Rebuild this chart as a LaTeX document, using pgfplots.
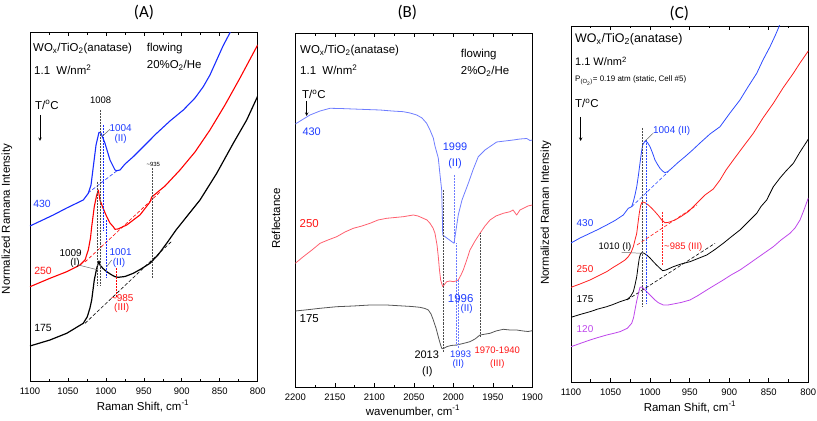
\documentclass[border=0pt]{standalone}
\usepackage{pgfplots}
\pgfplotsset{compat=1.18}
\usepackage{fontspec}
\setmainfont{Liberation Sans}
\newfontfamily\calibri{Carlito}
\newcommand{\fs}[1]{\fontsize{#1}{#1}\selectfont}
\definecolor{bA}{RGB}{25,45,255}
\definecolor{rA}{RGB}{255,0,0}
\definecolor{bB}{RGB}{110,125,255}
\definecolor{rB}{RGB}{255,95,110}
\definecolor{kB}{RGB}{85,85,85}
\definecolor{bC}{RGB}{45,75,255}
\definecolor{rC}{RGB}{255,30,30}
\definecolor{pC}{RGB}{190,70,235}
\definecolor{bT}{RGB}{30,60,255}
\definecolor{rT}{RGB}{255,20,20}
\pgfplotsset{
  panel/.style={
    scale only axis, anchor=south west, x dir=reverse, ymin=0, ytick=\empty,
    minor x tick num=1, tick align=inside, xtick pos=both,
    major tick length=4bp, minor tick length=2.5bp,
    every tick/.style={black, line width=0.6pt},
    axis line style={line width=0.9pt},
    tick label style={font=\fs{9.5}},
    xticklabel style={yshift=-3bp},
    /pgf/number format/assume math mode=true,
    /pgf/number format/1000 sep={},
    scaled x ticks=false,
  },
  cur/.style={line width=#1, no markers, line join=round},
  dot/.style={densely dotted, line width=0.5pt, no markers},
  dsh/.style={dash pattern=on 3.5pt off 2pt, line width=0.6pt, no markers},
  lead/.style={line width=0.5pt, color=black!60, no markers},
}
\begin{document}
\begin{tikzpicture}
\useasboundingbox (0,0) rectangle (817bp,421bp);
% ---------------- Panel A ----------------
\begin{axis}[panel, at={(30bp,39.3bp)}, width=227.7bp, height=349.4bp,
  xmin=800, xmax=1100, ymax=349.4, xtick={800,850,...,1100}]
% 430 blue
\addplot[cur=1.1pt, bA] coordinates {
(1100,155.7)(1069.3,166.7)(1051.6,173.7)(1029.8,181.7)(1023.2,188.4)(1019.6,196.7)
(1016.6,215)(1013.0,236.7)(1009.1,249.4)(1006.5,248.7)(1001.2,238.4)(994.6,221.7)
(988.0,211.7)(985.8,211)(981.4,211.7)(974.8,217.7)(963.9,225)(948.5,236.7)
(933.1,248.4)(915.6,260.7)(898.0,271.7)(882.6,283.7)(871.7,295)(862.9,306.7)
(854.0,321.7)(845.7,335.7)(836.9,348.4)(835.0,352)};
\addplot[dsh, bA] coordinates {(1023.6,188.7)(984.1,211.7)};
% 250 red
\addplot[cur=1.1pt, rA] coordinates {
(1100,95)(1073.7,103.4)(1051.6,110)(1034.1,116.7)(1027.5,121.7)(1023.2,131.7)
(1020.3,143.7)(1018.7,155)(1015.3,175)(1012.4,185.7)(1010.0,191.7)(1007.8,181.7)
(1003.8,173.7)(998.9,165)(994.6,158.7)(990.3,155)(988.0,152.4)(984.1,152.7)
(972.6,156.7)(955.1,166.7)(941.9,179.7)(939.6,184.7)(922.1,195.7)(902.4,211.7)
(882.6,229.7)(862.9,251.7)(843.1,276.7)(823.3,303.7)(801.3,335)(800,336.7)};
\addplot[dsh, rA] coordinates {(1027.5,119.7)(928.7,189.7)};
% 175 black
\addplot[cur=1.2pt, black] coordinates {
(1100,35.7)(1073.7,41.7)(1051.6,48.4)(1029.8,58.4)(1024.5,65)(1021.0,73.7)
(1018.7,81.7)(1017.0,91.7)(1015.3,101.7)(1012.1,113.4)(1009.1,120.7)(1007.8,116.7)
(1003.8,113.2)(998.9,110)(993.3,107.2)(988.0,105)(983.7,104.4)(974.8,105.2)
(963.9,108.4)(953.8,112.7)(941.9,118.4)(931.4,126.7)(919.9,138.4)(907.6,151.7)
(893.6,165)(876.0,181.7)(854.0,208.4)(832.2,238.4)(814.5,261.7)(801.3,283.4)(800,285.7)};
\addplot[dsh, black] coordinates {(1027.5,58.4)(912.9,140.7)};
% dotted marker lines
\addplot[dot, black!70] coordinates {(1008,271.7)(1008,96.7)};
\addplot[dot, black!70] coordinates {(1011,200)(1011,96.7)};
\addplot[dot, bA] coordinates {(1003.4,256.7)(1003.4,151.7)};
\addplot[dot, bA] coordinates {(1000,161.7)(1000,103.7)};
\addplot[dot, rA] coordinates {(985.8,113.7)(985.8,84.7)};
\addplot[dot, black!70] coordinates {(938.3,213.7)(938.3,103.7)};
% leaders
\addplot[lead] coordinates {(994.6,252.4)(1005.5,245)};
\addplot[lead] coordinates {(1036.4,116.7)(1010,111.7)};
\addplot[lead] coordinates {(992.4,121.7)(998.9,115)};
\end{axis}
% ---------------- Panel B ----------------
\begin{axis}[panel, at={(295.3bp,33.7bp)}, width=237bp, height=354bp,
  xmin=1900, xmax=2200, ymax=354, xtick={1900,1950,...,2200}]
\addplot[cur=0.8pt, bB] coordinates {
(2200,263.3)(2181.4,272.3)(2168.7,276.3)(2156.1,279)(2143.4,278.8)(2126.6,278.3)
(2110.5,277.8)(2092.8,277.3)(2077.6,276.3)(2063.3,275.6)(2054.8,274.3)(2046.3,272.3)
(2039.6,269.3)(2033.7,264)(2029.5,257.3)(2025.3,249.3)(2023.2,241.3)(2019.0,229.3)
(2016.8,212.3)(2014.7,197.3)(2013.9,172.3)(2013.4,152.3)(1999.1,144)(1993.7,172.3)
(1989.0,187.3)(1981.0,204)(1975.1,217.3)(1968.4,230.6)(1959.9,237.3)(1945.1,245.3)
(1934.6,246.3)(1924.1,247.3)(1915.6,248.3)(1907.1,248.8)(1902.9,246.8)(1900,247.3)};
\addplot[cur=0.8pt, rB] coordinates {
(2200,124)(2189.9,130.6)(2178.9,137.3)(2168.7,144)(2158.6,147.3)(2147.6,150.6)
(2137.1,155.3)(2126.6,159)(2115.6,161.3)(2105.4,164)(2095.3,167.3)(2084.3,169)
(2073.8,169.8)(2063.3,170.6)(2050.6,172.3)(2044.7,171.3)(2038.0,169)(2033.3,167.3)
(2029.5,164)(2025.7,159.3)(2023.2,154)(2020.6,142.3)(2019.0,130.6)(2017.5,117.3)
(2016.0,107.3)(2013.4,100.6)(2008.4,105.6)(2004.2,106.3)(2000.0,105.6)(1996.6,106.3)
(1993.7,107.3)(1990.3,112.3)(1987.4,117.3)(1983.0,127.3)(1978.9,137.3)(1972.5,146.3)
(1966.2,154)(1959.9,161.3)(1953.5,167.3)(1946.0,171.3)(1936.7,174)(1928.2,175.6)
(1924.4,177.3)(1919.8,172.3)(1915.6,177.3)(1911.4,179)(1905.5,181.3)(1900,182.3)};
\addplot[cur=0.8pt, kB] coordinates {
(2200,76.3)(2187.7,77.3)(2168.7,79)(2147.6,80.6)(2126.6,81.3)(2105.4,82.3)
(2084.3,82.3)(2063.3,81.3)(2052.3,80.8)(2042.2,80)(2035.8,78.8)(2031.6,77.3)
(2028.2,73.3)(2025.3,67.3)(2021.9,59.3)(2019.0,50.6)(2016.8,44.3)(2014.7,39)
(2013.0,38.5)(2008.4,40.6)(2002.9,41.8)(1995.7,42.3)(1987.7,43.8)(1978.9,45.6)
(1972.5,48.3)(1966.2,52.3)(1953.5,54)(1946.0,56.3)(1936.7,58)(1928.2,57.3)
(1919.8,57.3)(1911.4,56.3)(1905.5,55.8)(1900,56.6)};
\addplot[dot, black!70] coordinates {(2013,197.3)(2013,35.3)};
\addplot[dot, bB] coordinates {(1999.1,212.3)(1999.1,144)};
\addplot[dot, bB] coordinates {(1996,144)(1996,42.3)};
\addplot[dot, bB] coordinates {(1993.2,107.3)(1993.2,39.3)};
\addplot[dot, black!70] coordinates {(1966.2,154)(1966.2,50.6)};
\end{axis}
% ---------------- Panel C ----------------
\begin{axis}[panel, at={(571bp,39bp)}, width=237.3bp, height=356bp,
  xmin=800, xmax=1100, ymax=356, xtick={800,850,...,1100}]
\addplot[cur=0.8pt, bC] coordinates {
(1100,139)(1088.6,144)(1076.0,148.7)(1065.9,152.5)(1054.9,157)(1044.4,161.5)
(1033.9,167)(1027.6,173.7)(1023.3,175.3)(1021.2,180.3)(1019.1,187)(1016.9,195.3)
(1014.7,207)(1012.8,218.7)(1010.9,230)(1009.4,237)(1006.4,241)(1003.3,239.5)
(1000.1,235.3)(996.9,229)(993.8,222)(990.6,217.5)(987.5,213.7)(984.3,211)
(981.2,209.3)(977.4,210.5)(972.7,213.7)(964.7,219.5)(955.9,225.3)(947.0,231.5)
(936.9,239)(924.3,248)(911.6,255.3)(899.0,269)(886.4,282)(876.3,295)
(865.2,308.7)(857.3,322)(848.4,335.3)(842.1,346)(837.9,353.7)(835.8,358)};
\addplot[dsh, bC] coordinates {(1023.3,175.3)(977.0,210.3)};
\addplot[cur=0.8pt, rC] coordinates {
(1100,94.7)(1088.6,98)(1076.0,102)(1065.9,106)(1054.9,110.3)(1046.9,114.5)
(1038.1,118.7)(1031.7,122)(1027.6,125.3)(1024.1,129.5)(1021.2,135.3)(1019.1,142)
(1016.9,148.7)(1015.3,159)(1013.7,168.7)(1012.1,176)(1010.6,179.3)(1009.0,180)
(1005.8,179)(1002.3,177)(998.2,174)(993.8,170.3)(989.6,166.5)(985.3,162)
(981.2,159.3)(977.4,159.5)(968.5,162)(960.9,165.5)(951.7,170.3)(943.2,177)
(930.6,187)(920.1,193)(911.6,202)(904.0,212)(894.8,222)(882.6,235)
(869.5,248.7)(857.3,264)(844.2,278.7)(832.0,294)(818.9,308.7)(810.5,319)
(802.0,328.7)(800,331)};
\addplot[dsh, rC] coordinates {(1016.6,137)(940.7,177)};
\addplot[cur=0.8pt, black] coordinates {
(1100,64.7)(1088.6,67.5)(1076.0,70.3)(1065.9,73)(1054.9,75.3)(1046.9,77.5)
(1038.1,80.3)(1028.8,82.7)(1024.8,85.5)(1021.2,90.3)(1019.1,97)(1016.9,105.3)
(1015.3,115)(1013.7,123.7)(1012.1,128)(1010.6,129.3)(1008.3,129)(1004.3,127)
(1000.1,124)(995.9,120.3)(991.9,117)(987.5,113.7)(984.1,111.3)(979.9,112)
(970.7,115.3)(960.9,118)(949.6,120.3)(939.4,123.5)(928.4,127)(918.0,132.5)
(907.5,138.7)(897.7,145)(886.4,152)(876.3,160)(865.2,168.7)(859.8,175.5)
(852.6,182)(844.2,195.3)(835.8,204)(828.2,211)(818.9,218.7)(810.5,230)
(802.0,240.3)(800,243)};
\addplot[dsh, black] coordinates {(1029.2,82)(917.9,138.7)};
\addplot[cur=0.8pt, pC] coordinates {
(1100,35.3)(1088.6,38.5)(1076.0,42)(1065.9,44.5)(1054.9,47)(1046.9,48.5)
(1038.1,50.3)(1028.8,53.7)(1023.3,58.7)(1021.0,64)(1019.1,72)(1017.2,80)
(1015.7,85.3)(1014.0,91)(1012.8,94.7)(1010.2,95)(1006.4,92)(1002.7,89)
(998.0,85.3)(993.8,82)(989.6,79.3)(983.3,77)(977.4,77)(970.7,78)
(960.9,79.5)(949.6,82)(939.4,86.5)(928.4,92)(918.0,97)(907.5,102)
(897.7,107)(886.4,112)(876.3,117.5)(865.2,123.7)(854.7,129.5)(844.2,135.3)
(834.5,142)(823.2,148.7)(816.8,154)(810.5,162)(805.5,172)(800,184)};
\addplot[dot, black!70] coordinates {(1009.4,254)(1009.4,75.3)};
\addplot[dot, bC] coordinates {(1004.6,242)(1004.6,79)};
\addplot[dot, rC] coordinates {(985,170)(985,117)};
\addplot[lead] coordinates {(996.2,248.7)(1006.4,241)};
\addplot[lead] coordinates {(1035.9,129.7)(1010.6,128.7)};
\end{axis}
% ---------------- Texts A ----------------
\begin{scope}[every node/.style={inner sep=0pt}]
\node[font=\calibri\fs{17}] at (144bp,409bp) {(A)};
\node[font=\fs{11.5}, anchor=base west] at (33bp,369.3bp) {WO\textsubscript{x}/TiO\textsubscript{2}(anatase)};
\node[font=\fs{11.5}, anchor=base west] at (146.7bp,369.3bp) {flowing};
\node[font=\fs{11.5}, anchor=base west] at (34bp,346.3bp) {1.1~~W/nm\textsuperscript{2}};
\node[font=\fs{11.5}, anchor=base west] at (146.7bp,352.7bp) {20\%O\textsubscript{2}/He};
\node[font=\fs{11.5}, anchor=base west] at (35bp,311.7bp) {T/\textsuperscript{o}C};
\draw[-stealth, line width=0.6pt] (40bp,306bp) -- (40bp,280bp);
\node[font=\fs{9.5}] at (100.7bp,321bp) {1008};
\node[font=\fs{10}, text=bT] at (120.7bp,292.7bp) {1004};
\node[font=\fs{10}, text=bT] at (120.7bp,281.7bp) {(II)};
\node[font=\fs{6}] at (153.3bp,256.7bp) {\textasciitilde935};
\node[font=\fs{10.5}, text=bT] at (42bp,217.5bp) {430};
\node[font=\fs{10}] at (70.7bp,167.7bp) {1009};
\node[font=\fs{10}] at (75bp,158.3bp) {(I)};
\node[font=\fs{10}, text=bT] at (120.7bp,169.3bp) {1001};
\node[font=\fs{10}, text=bT] at (119bp,158.3bp) {(II)};
\node[font=\fs{10.5}, text=rT] at (43bp,150bp) {250};
\node[font=\fs{10}, text=rT] at (122.3bp,122.7bp) {\textasciitilde985};
\node[font=\fs{10}, text=rT] at (121.7bp,112.7bp) {(III)};
\node[font=\fs{10.5}] at (43bp,93.5bp) {175};
\node[font=\fs{11.5}] at (143bp,15bp) {Raman Shift, cm\textsuperscript{-1}};
\node[font=\fs{11.5}, rotate=90] at (7bp,202bp) {Normalized Ramana Intensity};
% ---------------- Texts B ----------------
\node[font=\calibri\fs{17}] at (407.3bp,409bp) {(B)};
\node[font=\fs{11.5}, anchor=base west] at (300bp,367bp) {WO\textsubscript{x}/TiO\textsubscript{2}(anatase)};
\node[font=\fs{11.5}, anchor=base west] at (300bp,346bp) {1.1~~W/nm\textsuperscript{2}};
\node[font=\fs{11.5}, anchor=base west] at (460.7bp,363.7bp) {flowing};
\node[font=\fs{11.5}, anchor=base west] at (460.7bp,346bp) {2\%O\textsubscript{2}/He};
\node[font=\fs{11.5}, anchor=base west] at (302bp,322bp) {T/\textsuperscript{o}C};
\draw[-stealth, line width=0.6pt] (306.7bp,320bp) -- (306.7bp,305bp);
\node[font=\fs{11}, text=bT] at (311.7bp,289.3bp) {430};
\node[font=\fs{11}, text=bT] at (455bp,274.3bp) {1999};
\node[font=\fs{11}, text=bT] at (455bp,257.7bp) {(II)};
\node[font=\fs{11.5}, text=rT] at (309.3bp,197bp) {250};
\node[font=\fs{11.5}, text=bT] at (460.7bp,122.7bp) {1996};
\node[font=\fs{10}, text=bT] at (466.7bp,112bp) {(II)};
\node[font=\fs{11.5}] at (309.3bp,102.7bp) {175};
\node[font=\fs{11}] at (426.7bp,66bp) {2013};
\node[font=\fs{11}] at (427.3bp,49.3bp) {(I)};
\node[font=\fs{9.5}, text=bT] at (460.7bp,67bp) {1993};
\node[font=\fs{9.5}, text=bT] at (458.3bp,56.7bp) {(II)};
\node[font=\fs{9.5}, text=rT] at (497.3bp,70.3bp) {1970-1940};
\node[font=\fs{9.5}, text=rT] at (497.3bp,57bp) {(III)};
\node[font=\fs{11.5}] at (413bp,10bp) {wavenumber, cm\textsuperscript{-1}};
\node[font=\fs{11.5}, rotate=90] at (276bp,202.5bp) {Reflectance};
% ---------------- Texts C ----------------
\node[font=\calibri\fs{17}] at (679.3bp,408bp) {(C)};
\node[font=\fs{12.5}, anchor=base west] at (575bp,378bp) {WO\textsubscript{x}/TiO\textsubscript{2}(anatase)};
\node[font=\fs{11}, anchor=base west] at (575bp,355bp) {1.1 W/nm\textsuperscript{2}};
\node[font=\fs{8}, anchor=base west] at (575bp,339bp) {P\textsubscript{(O\textsubscript{2})}= 0.19 atm (static, Cell \#5)};
\node[font=\fs{11.5}, anchor=base west] at (575bp,313bp) {T/\textsuperscript{o}C};
\draw[-stealth, line width=0.6pt] (580.7bp,304bp) -- (580.7bp,280bp);
\node[font=\fs{10}, text=bT] at (671.7bp,290.3bp) {1004 (II)};
\node[font=\fs{10}, text=bT] at (585bp,198.3bp) {430};
\node[font=\fs{9.5}] at (615bp,174.3bp) {1010 (I)};
\node[font=\fs{9.5}, text=rT] at (683.3bp,174.3bp) {\textasciitilde985 (III)};
\node[font=\fs{10}, text=rT] at (585bp,151.7bp) {250};
\node[font=\fs{10}] at (585bp,121.7bp) {175};
\node[font=\fs{10}, text=pC] at (585bp,91.7bp) {120};
\node[font=\fs{11.5}] at (690bp,14bp) {Raman Shift, cm\textsuperscript{-1}};
\node[font=\fs{11.5}, rotate=90] at (546bp,208bp) {Normalized Raman Intensity};
\end{scope}
\end{tikzpicture}
\end{document}
